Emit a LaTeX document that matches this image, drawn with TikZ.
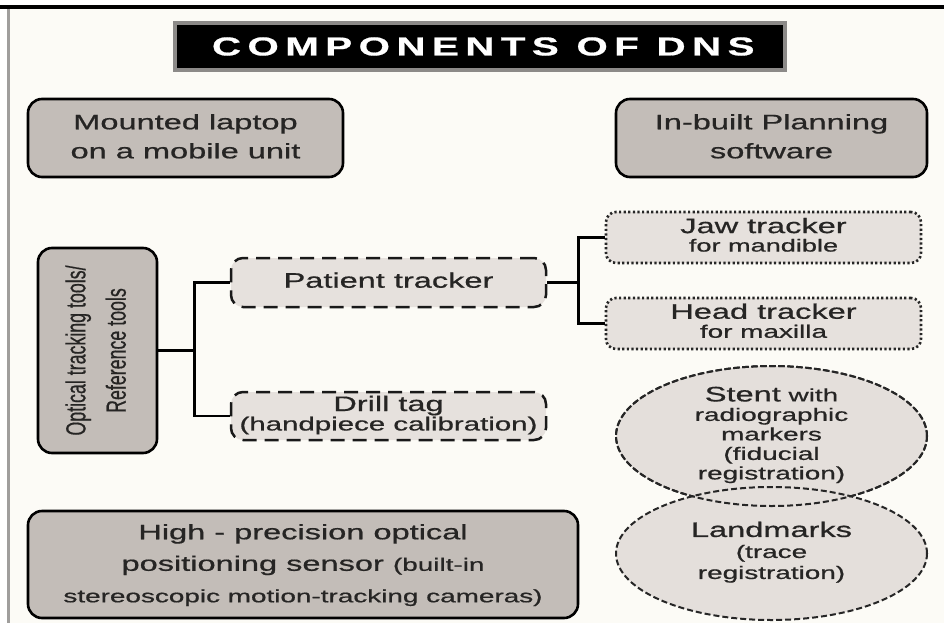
\documentclass[tikz,border=0pt]{standalone}
\usepackage{fontspec}
\setmainfont{Liberation Sans}[FakeBold=0.6]
\usepackage{graphicx}
\usetikzlibrary{shapes.geometric,calc}

\definecolor{paper}{HTML}{FCFBF6}
\definecolor{darkfill}{HTML}{C3BDB8}
\definecolor{lightfill}{HTML}{E6E1DD}
\definecolor{ovalfill}{HTML}{E4DFDB}
\definecolor{ink}{HTML}{262524}
\definecolor{rim}{HTML}{8C8A88}
\definecolor{frame}{HTML}{A09E9C}

% horizontally widened lettering
\newcommand\wide[1]{\scalebox{1.55}[1]{#1}}
\newcommand\stack[1]{\wide{\begin{tabular}{@{}c@{}}#1\end{tabular}}}
\newcommand\fs[2]{\fontsize{#1}{#2}\selectfont}

\tikzset{
  solidbox/.style={draw=black, line width=2.6pt, rounded corners=14pt,
    fill=darkfill, inner sep=0pt, text=ink},
  dashbox/.style={draw=black!90, line width=2.5pt, dash pattern=on 14pt off 8pt,
    rounded corners=12pt, fill=lightfill, inner sep=0pt, text=ink},
  dotbox/.style={draw=black!85, line width=2.6pt, dash pattern=on 2.2pt off 2.4pt,
    rounded corners=10pt, fill=lightfill, inner sep=0pt, text=ink},
  dashoval/.style={ellipse, draw=black!85, line width=2pt, dash pattern=on 6pt off 3pt,
    fill=ovalfill, inner sep=0pt, text=ink},
  titlebox/.style={draw=rim, line width=4pt, fill=black, inner sep=0pt, text=white},
  link/.style={line width=2.5pt, black}
}

\begin{document}
\begin{tikzpicture}[x=1pt, y=-1pt]
\useasboundingbox (0,0) rectangle (944,623);
% page and frame
\fill[white] (0,0) rectangle (944,623);
\fill[paper] (8,8) rectangle (944,623);
\draw[line width=4pt] (0,7) -- (944,7);
\draw[frame, line width=2.5pt] (8.5,9) -- (8.5,623);

% heading
\node[titlebox, minimum width=610pt, minimum height=47pt] (title) at (480,46.5)
  {\wide{\fs{26}{30}\bfseries\addfontfeature{LetterSpace=16}COMPONENTS OF DNS\kern-4.2pt}};

% top row
\node[solidbox, minimum width=315pt, minimum height=78pt] (laptop) at (185.5,138)
  {\fs{21}{29}\stack{Mounted laptop\\on a mobile unit}};
\node[solidbox, minimum width=311pt, minimum height=78pt] (plan) at (771.5,138)
  {\fs{21}{29}\stack{In-built Planning\\software}};

% tracking tools
\node[solidbox, minimum width=119pt, minimum height=205pt] (opt) at (97.5,350.5)
  {\fs{17.8}{26}\wide{\rotatebox{90}{\begin{tabular}{@{}c@{}}Optical tracking tools/\\Reference tools\end{tabular}}}};
\node[dashbox, minimum width=315pt, minimum height=49pt] (pat) at (388.5,282.5)
  {\fs{21}{26}\stack{Patient tracker}};
\node[dashbox, minimum width=315pt, minimum height=48pt] (drill) at (388.5,416)
  {\fs{21}{19}\stack{Drill tag\\{\fs{19}{19}(handpiece calibration)}}};
\node[dotbox, minimum width=315pt, minimum height=51pt] (jaw) at (763.5,237.5)
  {\fs{21}{18.5}\stack{Jaw tracker\\{\fs{17.5}{18.5}for mandible}}};
\node[dotbox, minimum width=315pt, minimum height=51pt] (head) at (763.5,323.5)
  {\fs{21}{19}\stack{Head tracker\\{\fs{18}{19}for maxilla}}};

% registration
\node[dashoval, minimum width=311pt, minimum height=140pt] (stent) at (771.5,436)
  {\fs{18}{19.5}\stack{{\fs{21}{19.5}Stent} with\\radiographic\\markers\\(fiducial\\registration)}};
\node[dashoval, minimum width=311pt, minimum height=133pt] (land) at (771.5,553.5)
  {\fs{18}{21}\stack{{\fs{21}{21}Landmarks}\\(trace\\registration)}};
\draw[draw=black!85, line width=2pt, dash pattern=on 6pt off 3pt]
  (stent.center) ellipse [x radius=155.5, y radius=70];

% sensor
\node[solidbox, minimum width=550pt, minimum height=107pt] (sensor) at (303,564.5)
  {\fs{21}{31.5}\stack{High - precision optical\\positioning sensor {\fs{18}{31.5}(built-in}\\{\fs{18}{31.5}stereoscopic motion-tracking cameras)}}};

% connectors
\coordinate (jl) at ($(opt.east)+(36,0)$);
\coordinate (jr) at ($(pat.east)+(31,0)$);
\draw[link] (opt.east) -- (jl);
\draw[link] (pat.west) -| (jl) |- (drill.west);
\draw[link] (pat.east) -- (jr);
\draw[link] (jaw.west) -| (jr) |- (head.west);
\end{tikzpicture}
\end{document}
